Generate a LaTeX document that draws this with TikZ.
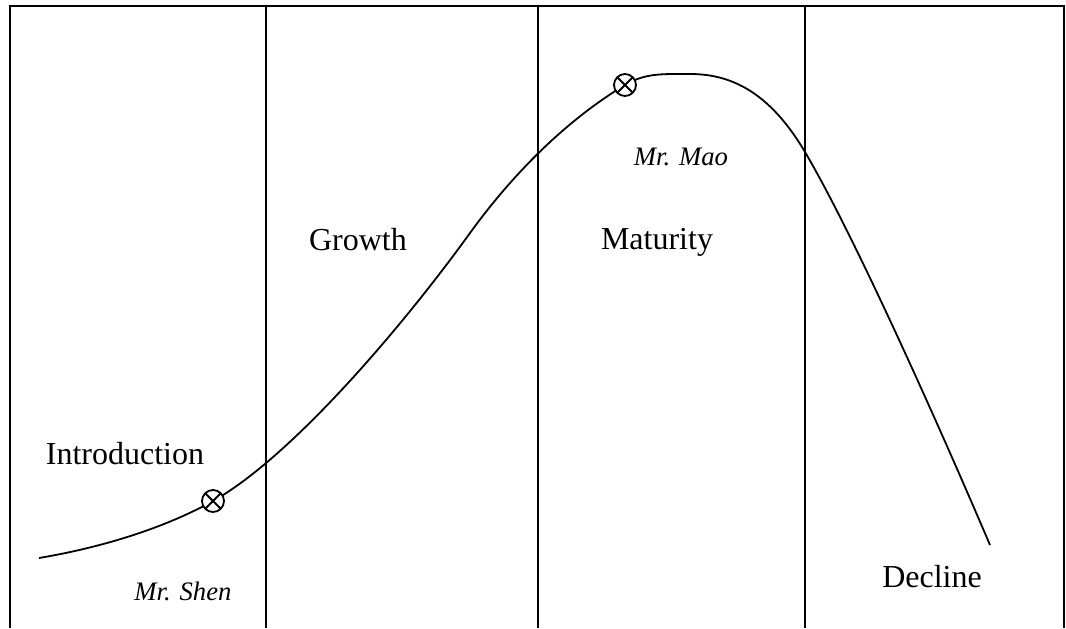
\documentclass[tikz,border=0pt]{standalone}
\usepackage{fontspec}
\setmainfont{Liberation Serif}
\begin{document}
\begin{tikzpicture}[x=0.75pt,y=-0.75pt,
  frameline/.style={line width=1.6pt},
  stagelabel/.style={font=\fontsize{24}{28}\selectfont, inner sep=0pt, anchor=base},
  namelabel/.style={font=\fontsize{20}{24}\selectfont\itshape, inner sep=0pt, anchor=base},
  curveline/.style={line width=1.35pt},
  otimesmark/.style={circle, draw, line width=1.35pt, fill=white, minimum size=16.5pt, inner sep=0pt,
    path picture={\draw[line width=1.35pt] (path picture bounding box.north east) -- (path picture bounding box.south west)
                     (path picture bounding box.north west) -- (path picture bounding box.south east);}}
]
\useasboundingbox (0,0) rectangle (1066,628);
% frame
\coordinate (bl) at (10,628);
\coordinate (tl) at (10,6);
\coordinate (tr) at (1064,6);
\coordinate (br) at (1064,628);
\draw[frameline] (bl) -- (tl) -- (tr) -- (br);
% stage dividers
\coordinate (d1t) at (266,6);  \coordinate (d1b) at (266,628);
\coordinate (d2t) at (538,6);  \coordinate (d2b) at (538,628);
\coordinate (d3t) at (805,6);  \coordinate (d3b) at (805,628);
\draw[frameline] (d1t) -- (d1b);
\draw[frameline] (d2t) -- (d2b);
\draw[frameline] (d3t) -- (d3b);
% curve
\coordinate (c0) at (39,558);
\coordinate (c1) at (213,501);
\coordinate (c2) at (470,233);
\coordinate (c3) at (625,85);
\coordinate (c4) at (690,74);
\coordinate (c5) at (805,152);
\coordinate (c6) at (990,545);
\draw[curveline] (c0) .. controls (110,546) and (170,525) .. (c1)
  .. controls (290,458) and (400,330) .. (c2)
  .. controls (520,164) and (575,115) .. (c3)
  .. controls (645,73) and (662,74) .. (c4)
  .. controls (730,74) and (769,91) .. (c5)
  .. controls (855,237) and (940,428) .. (c6);
% markers
\node[otimesmark] (shen) at (c1) {};
\node[otimesmark] (mao) at (c3) {};
% labels
\node[stagelabel] (intro) at (125,464) {Introduction};
\node[stagelabel] (growth) at (358,250) {Growth};
\node[stagelabel] (maturity) at (657,249) {Maturity};
\node[stagelabel] (decline) at (932,587) {Decline};
\node[namelabel] (mrshen) at (183,600) {Mr. Shen};
\node[namelabel] (mrmao) at (681,165) {Mr. Mao};
\end{tikzpicture}
\end{document}
